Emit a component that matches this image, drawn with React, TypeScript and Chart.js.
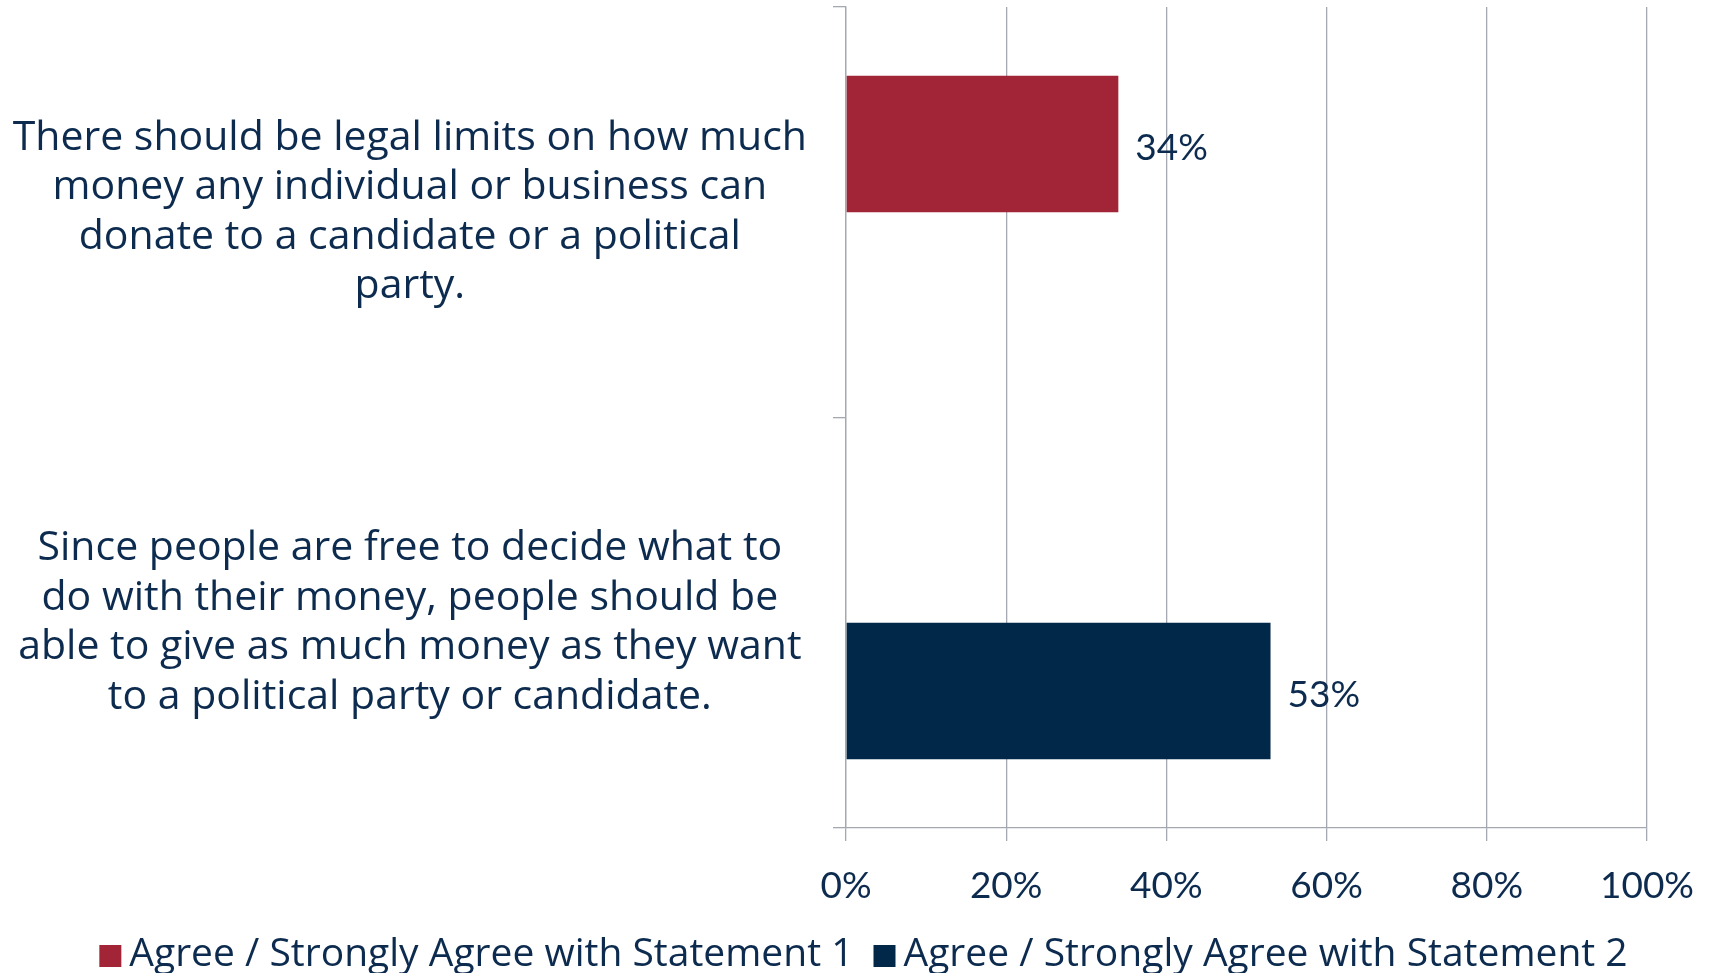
import React, { useEffect, useRef } from "react";
import { Chart, registerables } from "chart.js";

Chart.register(...registerables);

const categories: string[][] = [
  [
    "There should be legal limits on how much",
    "money any individual or business can",
    "donate to a candidate or a political",
    "party.",
  ],
  [
    "Since people are free to decide what to",
    "do with their money, people should be",
    "able to give as much money as they want",
    "to a political party or candidate.",
  ],
];

const seriesNames = [
  "Agree / Strongly Agree with Statement 1",
  "Agree / Strongly Agree with Statement 2",
];
const statement1Values: (number | null)[] = [34, null];
const statement2Values: (number | null)[] = [null, 53];
const xTickValues = [0, 20, 40, 60, 80, 100];

const RED = "#A12537";
const NAVY = "#022849";
const TEXT = "#0C2B4E";
const GRID = "#A5A8B0";
const TEXT_FONT = "'Open Sans', Lato, sans-serif";
const NUM_FONT = "Lato, 'Open Sans', sans-serif";

const dataLabelPlugin = {
  id: "dataLabels",
  afterDatasetsDraw(chart: any) {
    const ctx = chart.ctx;
    ctx.save();
    ctx.font = `37px ${NUM_FONT}`;
    ctx.fillStyle = TEXT;
    ctx.textAlign = "left";
    ctx.textBaseline = "middle";
    chart.data.datasets.forEach((ds: any, di: number) => {
      const meta = chart.getDatasetMeta(di);
      meta.data.forEach((el: any, i: number) => {
        const v = ds.data[i];
        if (v === null || v === undefined) return;
        ctx.fillText(`${v}%`, el.x + 17, el.y + 4);
      });
    });
    ctx.restore();
  },
};

const legendPlugin = {
  id: "customLegend",
  afterDraw(chart: any) {
    const ctx = chart.ctx;
    ctx.save();
    ctx.font = `39px ${TEXT_FONT}`;
    ctx.textBaseline = "middle";
    ctx.textAlign = "left";
    const box = 22;
    const gap = 8;
    const spacing = 20;
    const items = chart.data.datasets.map((ds: any) => ({
      label: ds.label,
      color: ds.backgroundColor,
      w: box + gap + ctx.measureText(ds.label).width,
    }));
    const total =
      items.reduce((s: number, it: any) => s + it.w, 0) + spacing * (items.length - 1);
    let x = chart.width / 2 + 9 - total / 2;
    const y = chart.height - 18;
    items.forEach((it: any) => {
      ctx.fillStyle = it.color;
      ctx.fillRect(x, y - box / 2 + 1, box, box);
      ctx.fillStyle = TEXT;
      ctx.fillText(it.label, x + box + gap, y);
      x += it.w + spacing;
    });
    ctx.restore();
  },
};

export default function App() {
  const ref = useRef<HTMLCanvasElement | null>(null);

  useEffect(() => {
    if (!ref.current) return;
    const chart = new Chart(ref.current, {
      type: "bar",
      data: {
        labels: categories,
        datasets: [
          {
            label: seriesNames[0],
            data: statement1Values,
            backgroundColor: RED,
            categoryPercentage: 0.665,
            barPercentage: 1,
          },
          {
            label: seriesNames[1],
            data: statement2Values,
            backgroundColor: NAVY,
            categoryPercentage: 0.665,
            barPercentage: 1,
          },
        ],
      },
      options: {
        indexAxis: "y",
        animation: false,
        responsive: false,
        layout: { padding: { top: 7, right: 62, bottom: 60, left: 0 } },
        plugins: {
          legend: { display: false },
          tooltip: { enabled: false },
        },
        scales: {
          x: {
            type: "linear",
            min: 0,
            max: 100,
            afterBuildTicks: (scale: any) => {
              scale.ticks = xTickValues.map((v) => ({ value: v }));
            },
            afterFit: (scale: any) => {
              scale.height = 85;
              scale.paddingLeft = 0;
              scale.paddingRight = 0;
            },
            grid: { color: GRID, lineWidth: 1.3, tickLength: 13, drawTicks: true },
            border: { color: GRID, width: 1.3 },
            ticks: {
              padding: 24,
              color: TEXT,
              font: { family: NUM_FONT, size: 37, lineHeight: 1.15 },
              callback: (v: any) => `${v}%`,
              maxRotation: 0,
            },
          },
          y: {
            type: "category",
            offset: true,
            afterFit: (scale: any) => {
              scale.width = 846;
              scale.paddingTop = 0;
              scale.paddingBottom = 0;
            },
            grid: {
              offset: true,
              drawOnChartArea: false,
              color: GRID,
              lineWidth: 1.3,
              tickLength: 13,
            },
            border: { color: GRID, width: 1.3 },
            ticks: {
              crossAlign: "center",
              padding: 26,
              color: TEXT,
              font: { family: TEXT_FONT, size: 41, lineHeight: 1.205 },
              autoSkip: false,
            },
          },
        },
      },
      plugins: [dataLabelPlugin, legendPlugin],
    });
    return () => chart.destroy();
  }, []);

  return (
    <div style={{ position: "fixed", left: 0, top: 0, width: 1709, height: 973, background: "#fff" }}>
      <canvas ref={ref} width={1709} height={973} style={{ display: "block" }} />
    </div>
  );
}
